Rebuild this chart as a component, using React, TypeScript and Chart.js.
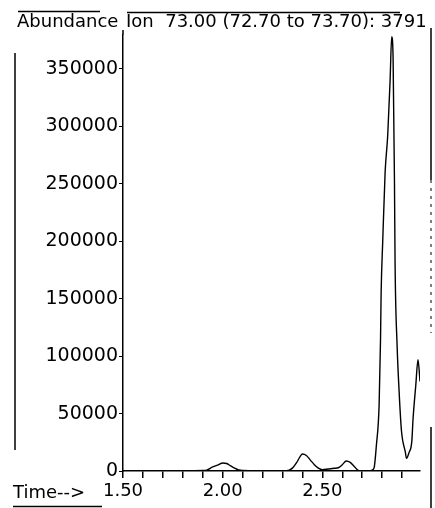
import React, { useEffect, useRef } from "react";
import { Chart, registerables } from "chart.js";

Chart.register(...registerables);

// ---- data ----
const times = [
  1.5, 1.6, 1.7, 1.8, 1.9, 1.92, 1.95, 1.98, 2.0, 2.02, 2.04, 2.06, 2.08, 2.1,
  2.2, 2.3, 2.33, 2.35, 2.37, 2.39, 2.4, 2.42, 2.44, 2.46, 2.48, 2.5, 2.53,
  2.56, 2.58, 2.6, 2.62, 2.64, 2.66, 2.68, 2.7, 2.73, 2.75, 2.76, 2.771,
  2.785, 2.792, 2.795, 2.803, 2.815, 2.828, 2.84, 2.848, 2.855, 2.862, 2.865,
  2.875, 2.885, 2.897, 2.917, 2.922, 2.935, 2.949, 2.955, 2.969, 2.98, 2.99,
];
const abundance = [
  300, 200, 300, 200, 400, 800, 3500, 5500, 7000, 6500, 4500, 2500, 1000, 500,
  300, 200, 600, 2500, 7000, 13000, 14800, 13500, 9500, 5500, 2500, 1200, 1800,
  2400, 2800, 5500, 8700, 7500, 4000, 500, 0, 200, 800, 3000, 22000,
  58000, 115000, 155000, 200000, 260000, 292000, 340000, 378000, 360000, 250000, 180000,
  110000, 70000, 35000, 16000, 11000, 16000, 26000, 45000, 75000, 97000, 78000,
];
const yTickValues = [0, 50000, 100000, 150000, 200000, 250000, 300000, 350000];
const xTickValues = [1.5, 1.6, 1.7, 1.8, 1.9, 2.0, 2.1, 2.2, 2.3, 2.4, 2.5, 2.6, 2.7, 2.8, 2.9];
const xLabelValues = [1.5, 2.0, 2.5];
const titleLeft = "Abundance";
const titleRight = "Ion  73.00 (72.70 to 73.70): 3791";
const xAxisName = "Time-->";

const FONT = '"DejaVu Sans", "Liberation Sans", sans-serif';

const decorPlugin = {
  id: "decor",
  afterDraw(chart: any) {
    const ctx = chart.ctx as CanvasRenderingContext2D;
    const area = chart.chartArea;
    ctx.save();
    ctx.fillStyle = "#000";
    ctx.strokeStyle = "#000";
    ctx.font = `18px ${FONT}`;
    ctx.textBaseline = "alphabetic";
    ctx.textAlign = "left";
    ctx.fillText(titleLeft, 17, 27);
    ctx.fillText(titleRight, area.left + 3, 27);
    ctx.fillText(xAxisName, 13, 498);

    ctx.lineWidth = 1.5;
    ctx.beginPath();
    // top rules
    ctx.moveTo(18, 11.5);
    ctx.lineTo(100, 11.5);
    ctx.moveTo(127, 12.5);
    ctx.lineTo(400, 12.5);
    // y axis extension to the title rule
    ctx.moveTo(area.left, area.top);
    ctx.lineTo(area.left, 30);
    // left frame line
    ctx.moveTo(15, 53);
    ctx.lineTo(15, 450);
    // right frame line
    ctx.moveTo(431, 28);
    ctx.lineTo(431, 180);
    ctx.moveTo(431, 427);
    ctx.lineTo(431, 508);
    // underline under Time-->
    ctx.moveTo(13, 506.5);
    ctx.lineTo(102, 506.5);
    ctx.stroke();

    ctx.lineWidth = 1;
    ctx.setLineDash([3, 5]);
    ctx.beginPath();
    ctx.moveTo(431, 180);
    ctx.lineTo(431, 333);
    ctx.stroke();
    ctx.restore();
  },
};

export default function App() {
  const ref = useRef<HTMLCanvasElement | null>(null);

  useEffect(() => {
    document.body.style.margin = "0";
    const canvas = ref.current;
    if (!canvas) return;
    const points = times.map((t, i) => ({ x: t, y: abundance[i] }));
    const chart = new Chart(canvas, {
      type: "line",
      data: {
        datasets: [
          {
            data: points,
            borderColor: "#000",
            borderWidth: 1.4,
            pointRadius: 0,
            fill: false,
            cubicInterpolationMode: "monotone",
          },
        ],
      },
      options: {
        animation: false,
        responsive: false,
        devicePixelRatio: 1,
        events: [],
        layout: { padding: { top: 34.5, right: 15, left: 0, bottom: 0 } },
        plugins: {
          legend: { display: false },
          tooltip: { enabled: false },
          title: { display: false },
        },
        scales: {
          x: {
            type: "linear",
            min: 1.5,
            max: 2.99,
            afterBuildTicks: (scale: any) => {
              scale.ticks = xTickValues.map((v) => ({ value: v }));
            },
            afterFit: (scale: any) => {
              scale.height = 37;
            },
            ticks: {
              autoSkip: false,
              maxRotation: 0,
              color: "#000",
              padding: 3,
              font: { family: FONT, size: 18 },
              callback: (v: any) => {
                const n = Number(v);
                return xLabelValues.some((l) => Math.abs(l - n) < 1e-6) ? n.toFixed(2) : "";
              },
            },
            grid: {
              drawOnChartArea: false,
              drawTicks: true,
              tickLength: 7,
              color: "#000",
              lineWidth: 1.5,
            },
            border: { display: true, color: "#000", width: 1.5 },
          },
          y: {
            type: "linear",
            min: 0,
            max: 380000,
            afterBuildTicks: (scale: any) => {
              scale.ticks = yTickValues.map((v) => ({ value: v }));
            },
            afterFit: (scale: any) => {
              scale.width = 123;
            },
            ticks: {
              color: "#000",
              padding: 1,
              font: { family: FONT, size: 19 },
              callback: (v: any) => String(v),
            },
            grid: {
              drawOnChartArea: false,
              drawTicks: true,
              tickLength: 4,
              color: "#000",
              lineWidth: 1,
            },
            border: { display: true, color: "#000", width: 1.5 },
          },
        },
      },
      plugins: [decorPlugin],
    });
    return () => chart.destroy();
  }, []);

  return (
    <div style={{ width: 435, height: 508, background: "#fff" }}>
      <canvas ref={ref} width={435} height={508} style={{ display: "block" }} />
    </div>
  );
}
